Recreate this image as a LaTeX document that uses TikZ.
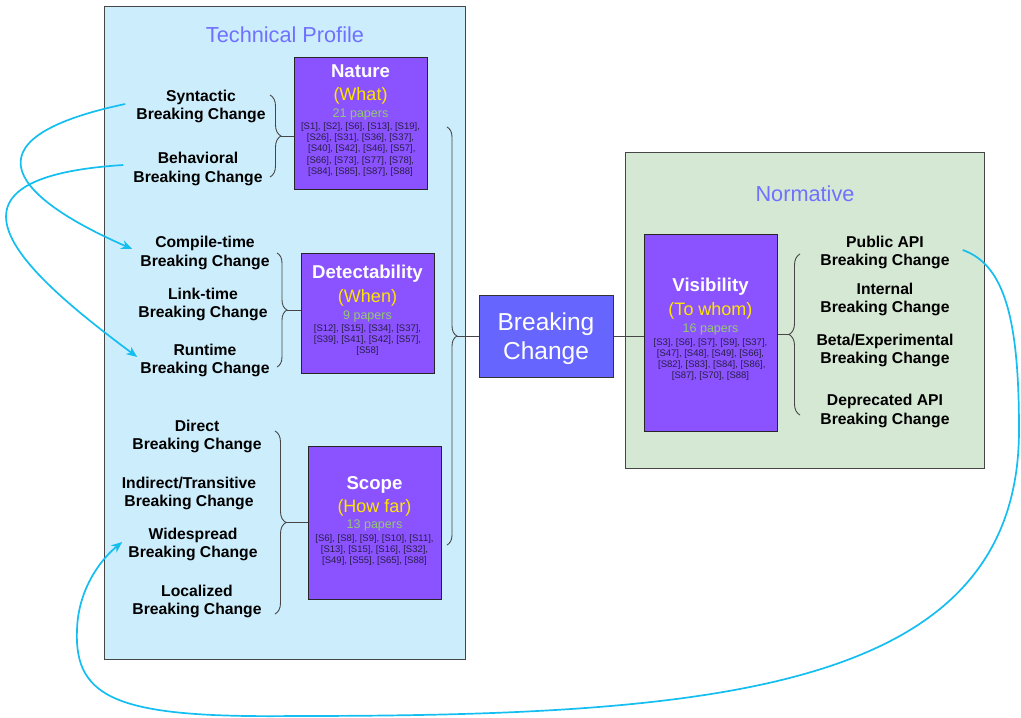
\documentclass[tikz,border=0pt]{standalone}
\usepackage{fontspec}
\setmainfont{Liberation Sans}
\usetikzlibrary{arrows.meta,decorations.pathreplacing,positioning}

\definecolor{techbg}{RGB}{204,238,252}
\definecolor{normbg}{RGB}{213,232,212}
\definecolor{catfill}{RGB}{139,82,255}
\definecolor{bcfill}{RGB}{102,102,255}
\definecolor{headblue}{RGB}{112,112,255}
\definecolor{subyellow}{RGB}{255,228,0}
\definecolor{papgreen}{RGB}{150,200,115}
\definecolor{reftext}{RGB}{40,30,70}
\definecolor{flowcyan}{RGB}{20,190,240}
\definecolor{brgray}{RGB}{70,70,70}

\tikzstyle{panel} = [draw=brgray, line width=1pt, inner sep=0pt]
\tikzstyle{panelhead} = [text=headblue, inner sep=0pt, font=\fontsize{21.7}{26}\selectfont]
\tikzstyle{catbox} = [draw=black!85, fill=catfill, line width=1pt, minimum width=133pt, inner sep=0pt]
\tikzstyle{cattitle} = [text=white, inner sep=0pt, font=\bfseries\fontsize{18.6}{22}\selectfont]
\tikzstyle{catsub} = [text=subyellow, inner sep=0pt, font=\fontsize{18}{22}\selectfont]
\tikzstyle{catcount} = [text=papgreen, inner sep=0pt, font=\fontsize{12.5}{15}\selectfont]
\tikzstyle{catrefs} = [text=reftext, align=center, inner sep=0pt, font=\fontsize{9.5}{11.3}\selectfont]
\tikzstyle{bcbox} = [draw=black!80, fill=bcfill, line width=1pt, minimum width=134pt, minimum height=82pt,
   text=white, align=center, font=\fontsize{24.5}{29}\selectfont]
\tikzstyle{kind} = [align=center, inner sep=2pt, font=\bfseries\fontsize{15.7}{18.5}\selectfont]
\tikzstyle{brc} = [draw=brgray, line width=0.9pt, decorate]
\tikzstyle{joint} = [draw=brgray, line width=1pt]
\tikzstyle{flow} = [draw=flowcyan, line width=1.7pt, -{Stealth[length=11pt,width=9pt]}]

\begin{document}
\begin{tikzpicture}[x=1pt,y=-1pt]

\useasboundingbox (0,0) rectangle (1021,718);

% the two panels
\node[panel, fill=techbg, minimum width=361pt, minimum height=653pt] (tech) at (284.5,332.5) {};
\node[panel, fill=normbg, minimum width=359pt, minimum height=316pt] (norm) at (804.5,310) {};
\node[panelhead] (techT) at (285,35) {Technical Profile};
\node[panelhead] (normT) at (805,194) {Normative};

% Nature
\node[catbox, minimum height=132pt] (nature) at (360.5,123) {};
\node[cattitle] (natureT) at (360.5,71) {Nature};
\node[catsub] (natureS) at (360.5,96) {(What)};
\node[catcount] (natureN) at (360.5,114) {21 papers};
\node[catrefs] (natureR) at (360.5,149.5) {[S1], [S2], [S6], [S13], [S19],\\{}[S26], [S31], [S36], [S37],\\{}
   [S40], [S42], [S46], [S57],\\{}[S66], [S73], [S77], [S78],\\{}[S84], [S85], [S87], [S88]};

% Detectability
\node[catbox, minimum height=120pt] (detect) at (367.5,313) {};
\node[cattitle] (detectT) at (367.5,274) {Detectability};
\node[catsub] (detectS) at (367.5,298) {(When)};
\node[catcount] (detectN) at (367.5,316) {9 papers};
\node[catrefs] (detectR) at (367.5,340) {[S12], [S15], [S34], [S37],\\{}[S39], [S41], [S42], [S57],\\{}[S58]};

% Scope
\node[catbox, minimum height=153pt] (scope) at (374.5,522.5) {};
\node[cattitle] (scopeT) at (374.5,485) {Scope};
\node[catsub] (scopeS) at (374.5,508) {(How far)};
\node[catcount] (scopeN) at (374.5,525) {13 papers};
\node[catrefs] (scopeR) at (374.5,550) {[S6], [S8], [S9], [S10], [S11],\\{}[S13], [S15], [S16], [S32],\\{}[S49], [S55], [S65], [S88]};

% Visibility
\node[catbox, minimum height=197pt] (vis) at (710.5,332.5) {};
\node[cattitle] (visT) at (710.5,287) {Visibility};
\node[catsub] (visS) at (710.5,311) {(To whom)};
\node[catcount] (visN) at (710.5,329) {16 papers};
\node[catrefs] (visR) at (710.5,359.5) {[S3], [S6], [S7], [S9], [S37],\\{}[S47], [S48], [S49], [S66],\\{}
   [S82], [S83], [S84], [S86],\\{}[S87], [S70], [S88]};

\node[bcbox] (bc) at (546,336) {};
\node[text=white, align=center, inner sep=0pt, font=\fontsize{24.5}{29}\selectfont] (bcT) at (546,339) {Breaking\\Change};

% kinds of breaking change
\node[kind] (syn) at (201,106.5) {Syntactic\\Breaking Change};
\node[kind] (beh) at (198,169) {Behavioral\\Breaking Change};
\node[kind] (comp) at (205,253) {Compile-time\\Breaking Change};
\node[kind] (lnk) at (203,304.5) {Link-time\\Breaking Change};
\node[kind] (run) at (205,360.5) {Runtime\\Breaking Change};
\node[kind] (dir) at (197,436.5) {Direct\\Breaking Change};
\node[kind] (ind) at (189,493.5) {Indirect/Transitive\\Breaking Change};
\node[kind] (wide) at (193,544.5) {Widespread\\Breaking Change};
\node[kind] (loc) at (197,601.5) {Localized\\Breaking Change};
\node[kind] (pub) at (885,252.5) {Public API\\Breaking Change};
\node[kind] (int) at (885,299.5) {Internal\\Breaking Change};
\node[kind] (beta) at (885,350.5) {Beta/Experimental\\Breaking Change};
\node[kind] (dep) at (885,411) {Deprecated API\\Breaking Change};

% braces
\draw[brc, decoration={brace,amplitude=11pt}] (270,95) -- (270,177);
\draw[brc, decoration={brace,amplitude=10pt}] (277,253) -- (277,367);
\draw[brc, decoration={brace,amplitude=11pt}] (275,431) -- (275,614);
\draw[brc, decoration={brace,amplitude=10pt}] (447,127) -- (447,545);
\draw[brc, decoration={brace,amplitude=11pt}] (800,415) -- (800,254);
\coordinate (natTip) at (281,136);
\coordinate (detTip) at (287,310);
\coordinate (scoTip) at (286,522.5);
\coordinate (allTip) at (457,336);
\coordinate (visTip) at (789,334.5);

\draw[joint] (natTip) -- (natTip -| nature.west);
\draw[joint] (detTip) -- (detTip -| detect.west);
\draw[joint] (scoTip) -- (scoTip -| scope.west);
\draw[joint] (allTip) -- (allTip -| bc.west);
\draw[joint] (bc.east) -- (bc.east -| vis.west);
\draw[joint] (visTip -| vis.east) -- (visTip);

% cyan relations
\draw[flow] ([xshift=-9pt,yshift=2.5pt]syn.west) .. controls (-45,140) and (20,200) .. ([xshift=-6pt,yshift=4pt]comp.west);
\draw[flow] ([xshift=-8pt,yshift=4pt]beh.west) .. controls (-80,178) and (20,270) .. ([xshift=-1pt,yshift=3.5pt]run.west);
\draw[flow] ([xshift=11pt,yshift=2.5pt]pub.east) .. controls (1005,265) and (1019,320) .. (1019,430)
	.. controls (1019,690) and (720,716) .. (294,716)
	.. controls (120,718) and (74,700) .. (77,630)
	.. controls (78,590) and (100,560) .. ([xshift=-4pt,yshift=2.5pt]wide.west);

\end{tikzpicture}
\end{document}
